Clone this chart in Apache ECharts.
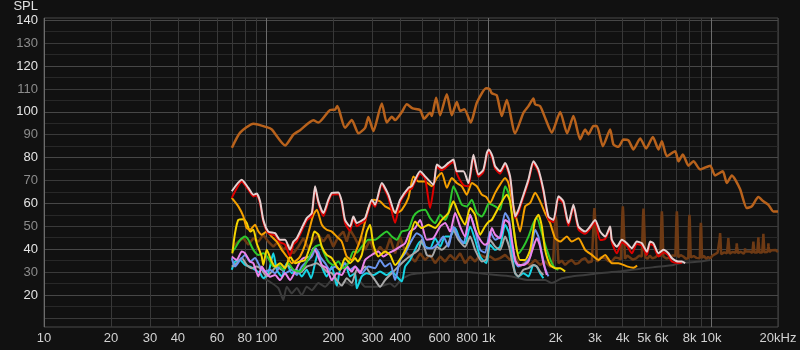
<!DOCTYPE html>
<html><head><meta charset="utf-8">
<script src="https://cdn.jsdelivr.net/npm/echarts@6/dist/echarts.min.js"></script>
<style>html,body{margin:0;padding:0;background:#111111;}#c{width:800px;height:350px;}</style>
</head><body><div id="c"></div>
<script>
// ---- axis ticks / labels ----
const xTickHz = [10,20,30,40,50,60,70,80,90,100,200,300,400,500,600,700,800,900,1000,2000,3000,4000,5000,6000,7000,8000,9000,10000,20000];
const xLabelHz = [10,20,30,40,60,80,100,200,300,400,600,800,1000,2000,3000,4000,5000,6000,8000,10000,20000];
const yTicks = [10,15,20,25,30,35,40,45,50,55,60,65,70,75,80,85,90,95,100,105,110,115,120,125,130,135,140];
const yLabels = [20,30,40,50,60,70,80,90,100,110,120,130,140];

// ---- series data: [Hz, dB SPL] ----
const fundamental = [[70,84.3],[76.2,90.9],[87.4,94.8],[100.4,93.3],[105.7,92.3],[121.4,85.3],[132.3,90.1],[141.8,92],[162.7,96.3],[171.4,95.3],[193.4,100.8],[203.7,101],[208.6,102.5],[225.9,93],[242.2,96.4],[259.4,90.6],[278,93],[287.6,97.7],[302.9,91.6],[330.5,103.7],[348,95.3],[366.6,97.9],[379.3,96.4],[406.6,99.9],[428.2,103.3],[455,101.5],[491.4,100.8],[512,97],[545,99.6],[554.6,98.2],[580,106.2],[604.5,98.5],[648,107.7],[682.3,98.5],[718.7,104.3],[743.6,100.4],[777.5,101.1],[830.8,95.3],[884.2,104],[973.5,110.3],[1010,109.9],[1033,108.1],[1087,107.2],[1145,98.2],[1206,105.2],[1315,90.6],[1433,99.6],[1509,102.5],[1589,105.8],[1617,103.3],[1703,102.5],[1800,97],[1922,90.9],[2096,99.9],[2253,90.6],[2404,98.2],[2577,88],[2714,92.3],[2808,90.1],[2958,93.8],[3064,93.8],[3261,85],[3516,92.3],[3639,85.7],[3833,84.7],[4036,87.9],[4251,87.5],[4476,83.6],[4798,88.4],[5105,84],[5473,89],[5800,83.6],[6008,87.2],[6327,80.6],[6895,82.8],[7134,78.4],[7466,81.4],[7913,76.5],[8331,78.4],[8933,74.8],[9908,76.5],[10420,72.2],[11290,74],[11770,68.9],[12390,72.2],[13500,66.3],[14470,58],[15240,58.7],[16320,62.8],[17190,60.9],[18110,59.4],[19060,56.5],[20000,56.5]];

const noise = [[71,41.3],[74.8,43.3],[78.8,44.8],[83,41.9],[87.4,44.8],[92.1,43.3],[96.9,46.3],[102,43.3],[107.5,41.1],[113.2,43.3],[119.2,39.7],[125.6,41.9],[132.3,38.2],[139.3,41.1],[146.7,44.8],[154.5,40.4],[162.7,44.1],[171.4,46.3],[180.5,43.3],[190,46.3],[200,41.1],[210.8,45.5],[222,47.7],[229.9,43.3],[237.9,48.5],[250.6,44.8],[259.4,41.9],[268,45.5],[278,39.7],[292.7,44.1],[308.3,37.5],[324.7,41.1],[342,38.2],[360.2,44.8],[379.3,38.2],[399.5,45.5],[420.7,39],[443,36.8],[466.6,34.6],[491.4,38.2],[517.6,35.3],[545,37.5],[574,33.9],[604.5,36.8],[636.7,34.6],[670.6,37.5],[706.2,35.3],[743.6,38.2],[783.1,33.9],[824.7,36.8],[868.7,34.6],[914.9,37.5],[963,36.5],[1015,36.8],[1069,35.3],[1125,36.1],[1185,37.5],[1248,35.3],[1315,36.8],[1384,32.4],[1458,34.6],[1536,33.1],[1617,35.3],[1703,33.1],[1793,34.6],[1889,32.4],[1945,33.1],[1990,52],[2003,54.3],[2016,52],[2060,33.9],[2130,35],[2207,33.1],[2290,34.6],[2364,35.3],[2450,33.5],[2532,33.9],[2620,35.4],[2714,36.1],[2800,34.2],[2910,34.6],[2975,55.5],[2988,58],[3002,55.5],[3070,34.6],[3200,36.4],[3339,36.1],[3450,34.8],[3579,34.6],[3700,36.4],[3833,36.1],[3930,35.5],[3995,56],[4011,58.7],[4027,56],[4100,35.8],[4200,37.2],[4300,36.5],[4450,35.4],[4600,36],[4750,37.2],[4880,36.8],[4946,55],[4966,57.7],[4986,55],[5060,36.5],[5180,35.8],[5300,37.2],[5450,36],[5600,36.4],[5770,37.4],[5920,37],[5984,54],[6008,56.5],[6032,54],[6100,36.8],[6300,35.9],[6500,36.2],[6720,37.3],[6910,37],[6990,54],[7018,56.5],[7046,54],[7120,36.5],[7300,37.4],[7500,36.8],[7700,35.8],[7900,36],[7965,52.5],[7995,55],[8025,52.5],[8100,36.4],[8350,37],[8600,36.2],[8900,36],[8965,49],[9000,51.5],[9035,49],[9100,36.2],[9300,37],[9500,35.8],[9700,36.6],[9908,36],[10150,37.2],[10420,37.8],[10700,38.5],[10880,38],[10940,45],[10980,47],[11020,45],[11100,37.8],[11450,38.6],[11780,38.2],[11920,43],[11960,44.8],[12000,43],[12120,38],[12500,38.8],[12880,38.4],[13010,41],[13050,42.6],[13090,41],[13230,38.2],[13600,38.9],[14030,38],[14180,39],[14220,40.4],[14260,39],[14420,38.2],[14900,39],[15330,38.4],[15460,42],[15500,43.3],[15540,42],[15680,38.5],[15900,39.2],[16130,38.5],[16280,43.5],[16320,45.2],[16360,43.5],[16500,38.6],[16800,39.3],[16980,38.6],[17150,45],[17190,46.7],[17230,45],[17370,38.7],[17700,39.4],[17930,38.8],[18070,41],[18110,42.6],[18150,41],[18290,38.8],[18700,39.5],[19000,39],[19500,39.6],[20000,38.8]];

const white = [[69.9,65.3],[77.5,70.3],[83,66.8],[87.4,63.8],[90.5,64.3],[93.7,60.9],[96.9,52.8],[102,47.7],[109.4,47],[115.2,44.1],[121.4,44.1],[127.8,39.8],[132.3,43.3],[137,44.8],[146.7,50.7],[151.9,53.6],[160.1,55.8],[165.6,67.5],[171.4,60.9],[180.5,55.8],[190,61.6],[196.9,64.6],[210.8,64.8],[218.3,60.9],[225.9,52.8],[237.9,49.9],[246.3,54.3],[255.1,51.4],[264,52.1],[278,53.6],[297.9,61.6],[308.3,59.4],[330.5,68.9],[353.9,63.8],[379.3,55.8],[399.5,61.6],[435.3,66.8],[450.9,67.5],[466.6,70.4],[491.4,74],[517.6,71.8],[563.9,68.2],[584.2,77],[615.2,75.5],[658.9,77.7],[693.8,79.2],[718.7,74],[769.5,74],[810.4,68.9],[853.5,81.3],[899,72.6],[946.7,74.8],[980.6,82],[1000,83.5],[1040,80.5],[1069,76.2],[1125,74],[1185,77.7],[1248,71.8],[1315,54.3],[1360,57.2],[1433,63.8],[1509,70.4],[1589,78.4],[1673,74.8],[1762,66],[1856,54.3],[1955,52.8],[2058,63.1],[2168,60.9],[2283,51.4],[2404,59.4],[2532,49.9],[2714,47.7],[2858,49.9],[3010,52.8],[3171,47.7],[3339,45.5],[3516,49.9],[3579,44.1],[3770,41.1],[3970,44.1],[4181,42.6],[4403,40.4],[4637,43.3],[4884,42.6],[5142,38.9],[5322,43.3],[5507,42.6],[5800,38.2],[6108,39.7],[6433,38.2],[6663,36.1],[7134,34.6],[7389,34.6],[7647,33.9]];

const red = [[69.9,62.4],[77.5,69.5],[83,66],[87.4,63],[90.5,63.5],[93.7,60],[96.9,52],[102,47],[109.4,46],[115.2,43],[121.4,42],[127.8,37],[132.3,42],[137,43.5],[146.7,49.5],[151.9,52.5],[160.1,54.5],[165.6,66.5],[171.4,60],[180.5,54.5],[190,60.5],[196.9,63.8],[210.8,64],[218.3,60],[225.9,51.5],[237.9,48],[246.3,53.5],[255.1,50],[264,51],[278,52.5],[297.9,60.5],[308.3,58.5],[330.5,68],[353.9,62.5],[379.3,51.5],[399.5,60.5],[435.3,65.8],[450.9,66.5],[466.6,69.5],[491.4,73],[517.6,70.8],[545,58],[563.9,66],[584.2,76],[615.2,74.5],[658.9,76.7],[693.8,78.2],[718.7,73],[769.5,68],[810.4,67.5],[853.5,80.3],[899,71.6],[946.7,73.8],[980.6,81],[1000,82.5],[1040,79.5],[1069,75.2],[1125,73],[1185,76.7],[1248,70.8],[1315,53.5],[1360,56],[1433,62.8],[1509,69.4],[1589,77.4],[1673,73.8],[1762,65],[1856,53],[1955,51.8],[2058,62.1],[2168,59.9],[2283,50.2],[2404,58.4],[2532,48.7],[2714,46.7],[2858,48.9],[3010,51.8],[3171,44],[3339,44.5],[3516,48.9],[3579,43],[3770,38.2],[3970,43],[4181,41.6],[4403,38.2],[4637,42.3],[4884,41.6],[5142,37.5],[5322,42.3],[5507,41.6],[5800,36.8],[6108,38.7],[6433,37.2],[6663,34.6],[7134,34],[7389,34]];

const orange = [[69.9,62.4],[74.8,58.7],[78.8,54.3],[81.6,49.2],[84.5,48.5],[88.9,50.7],[92.1,47.7],[95.3,46.3],[100.4,47.7],[105.7,45.5],[111.4,43.3],[117.3,39.7],[123.5,36.8],[130.1,33.9],[137,35.3],[141.8,36.8],[149.3,41.9],[157.3,49.9],[162.7,55],[168.6,57.2],[177.6,50.7],[186.9,48.5],[196.9,47.7],[207.4,45.5],[218.3,43.3],[229.9,36.8],[242.2,35.3],[255.1,40],[264,44],[278,52],[287.6,58],[302.9,61.6],[324.7,60.9],[342,58.7],[366.6,57.2],[386,55.8],[406.6,57.2],[435.3,62.4],[458.5,71.8],[482.9,69.6],[517.6,69.6],[554.6,67.5],[584.2,71.1],[615.2,73.3],[648,66.8],[682.3,71.1],[718.7,68.9],[756.8,67.5],[797,63.8],[839.5,68.9],[884.2,67.5],[931.1,63.8],[975,62.8],[1015,60.2],[1069,64.6],[1125,68.2],[1185,71.1],[1226,68.9],[1270,61.6],[1338,52.8],[1384,47.7],[1458,58.7],[1536,60.2],[1617,64.6],[1703,60.9],[1793,55.8],[1889,51.4],[1989,44.8],[2096,43.3],[2246,45.5],[2364,43.3],[2532,44.8],[2714,39.7],[2909,37.5],[3115,35.3],[3339,37.5],[3579,33.9],[3833,33.9],[4181,32.5],[4476,31.9],[4650,32.8]];

const yellow = [[70.3,38.2],[72.3,47],[74.8,52.8],[78.8,53.1],[81.6,51.4],[84.5,47.7],[87.4,48.5],[90.5,42.6],[95.3,36.8],[96.9,33.1],[100.4,39.7],[105.7,34.6],[109.4,32.4],[115.2,33.9],[121.4,31.7],[127.8,36.8],[134.6,33.9],[141.8,34.6],[149.3,35.3],[158.9,42.6],[164.4,47.7],[171.4,46.3],[177.6,41.1],[186.9,37.5],[196.9,36.1],[207.4,32.4],[214.5,31],[225.9,36.1],[237.9,33.9],[250.6,36.1],[258,34.6],[268.6,37.5],[282.9,47.7],[292.7,50.7],[302.9,41.9],[319,36.8],[342,39],[360.2,37.5],[379.3,33.1],[406.6,36.8],[435.3,42.6],[466.6,52.1],[500.2,49.2],[535.5,50.7],[574,49.2],[615.2,52.8],[658.9,55.8],[693.8,60.9],[730.7,55.8],[783.1,50.7],[824.7,58],[868.7,55],[914.9,46.3],[963.4,50],[1000,52],[1033,52.8],[1125,59.4],[1206,63.8],[1248,60.9],[1291,49.9],[1338,39.7],[1384,35.3],[1458,35.3],[1536,39.7],[1617,52.8],[1673,55],[1734,49.9],[1793,39.7],[1889,33.1],[1989,31.7],[2096,31.7],[2207,30.2]];

const green = [[70.3,39],[72.3,40.4],[76.2,44.1],[80.2,45.5],[83,44.1],[87.4,39.7],[92.1,37.5],[96.9,38.2],[102,36.1],[107.5,32.4],[113.2,33.1],[119.2,31],[125.6,33.9],[132.3,31],[141.8,30.2],[149.3,33.1],[157.3,37.5],[165.6,41.1],[174.5,41.9],[180.5,39],[190,34.6],[200.1,33.1],[210.8,34.6],[222,31.7],[233.8,33.9],[246.3,39],[255.1,38.5],[268.6,41.1],[287.6,44.1],[308.3,44.1],[330.5,46.3],[348,47.7],[366.6,45.5],[386,44.1],[406.6,47.7],[435.3,48.5],[458.5,54.3],[482.9,56.5],[517.6,57.2],[545,53.6],[574,51.4],[604.5,55],[636.7,52.8],[658.9,55.8],[693.8,67.5],[718.7,64.6],[756.8,59.4],[797,58.7],[839.5,61.6],[884.2,55.8],[931.1,54.3],[963,56.5],[1000,60],[1069,58.7],[1125,57.2],[1185,67.5],[1226,64.6],[1270,55.8],[1315,44.1],[1360,38.2],[1433,41.1],[1509,45.5],[1589,51.4],[1646,53.6],[1734,47],[1825,39.7],[1922,33.9],[1989,31.7],[2058,31]];

const violet = [[69.9,36.8],[73.6,35.3],[77.5,39],[80.2,38.2],[84.5,34.6],[87.4,33.9],[92.1,28.1],[95.3,32.4],[98.7,30.2],[103.9,28],[109.4,28.7],[115.2,26.5],[121.4,29.5],[127.8,26.5],[134.6,30.2],[141.8,34.6],[146.7,36.1],[157.3,36.8],[162.7,40.4],[168.6,38.2],[177.6,33.1],[186.9,31.7],[196.9,26.5],[207.4,29.5],[218.3,28.7],[229.9,32.4],[242.2,30.2],[250.6,32.4],[264,29.5],[278,35.3],[297.9,37.5],[319,39],[336,36.8],[353.9,38.2],[379.3,39.7],[399.5,41.1],[420.7,42.6],[443,47.7],[466.6,49.2],[491.4,52.8],[526.7,44.1],[563.9,44.8],[604.5,49.9],[636.7,51.4],[670.6,47.7],[706.2,55.8],[743.6,49.9],[783.1,45.5],[824.7,55],[868.7,48.5],[914.9,44.1],[963.4,41.9],[997,43],[1033,49.2],[1069,46.3],[1125,44.8],[1185,52.8],[1235,51.4],[1270,44.1],[1315,35.3],[1360,33.1],[1433,33.1],[1509,34.6],[1589,41.1],[1646,44.8],[1703,41.1],[1762,33.9],[1825,28.7]];

const blue = [[69.9,36.1],[72.3,32.4],[76.2,35.3],[80.2,37.5],[84.5,34.6],[88.9,36.1],[93.7,32.4],[98.7,30.2],[103.9,31],[109.4,29.5],[115.2,32.4],[121.4,29.5],[130.1,31],[137,28.7],[144.3,32.4],[151.9,34.6],[160.1,36.8],[166.8,40.4],[174.5,36.8],[183.7,33.9],[193.4,31],[203.7,32.4],[214.5,31],[225.9,33.9],[237.9,31],[250.6,32.4],[268.6,29.5],[287.6,32.4],[308.3,31.7],[324.7,35.3],[342,32.4],[360.2,33.9],[379.3,26.5],[399.5,35.3],[420.7,38.2],[443,42.6],[474.9,47],[500.2,45.5],[526.7,40.4],[554.6,40.4],[593.9,42.6],[625.5,45.5],[658.9,41.1],[693.8,49.9],[730.7,45.5],[769.5,42.6],[824.7,55],[868.7,48.5],[914.9,39.7],[963,38.5],[1015,47.7],[1069,44.1],[1125,45.5],[1185,55.8],[1235,52.8],[1270,42.6],[1315,34.6],[1360,32.4],[1458,33.9],[1536,36.8],[1617,48.5],[1673,45.5],[1734,38.2],[1793,31.7],[1856,28.1]];

const cyan = [[69.9,31],[72.3,34.6],[76.2,35.3],[80.2,33.1],[84.5,32.4],[88.9,31],[93.7,29.5],[96.9,27.3],[102,29.5],[107.5,38.2],[111.4,31],[117.3,28.1],[123.5,33.9],[130.1,29.5],[137,31],[144.3,28.1],[151.9,31],[158.9,27.3],[165.6,33.9],[171.4,39],[177.6,32.4],[186.9,28.1],[196.9,32.4],[207.4,24.1],[214.5,31],[225.9,33.9],[237.9,28.1],[250.6,29.5],[255.1,22.9],[268.6,28.1],[282.9,29.5],[302.9,28.7],[324.7,30.2],[348,28.7],[366.6,30.2],[386,28.1],[406.6,25.9],[420.7,32.4],[443,35.3],[466.6,39.7],[491.4,43.3],[517.6,41.1],[545,40.4],[574,44.8],[604.5,41.1],[636.7,45.5],[670.6,45.5],[706.2,49.2],[743.6,44.1],[783.1,42.6],[824.7,49.9],[868.7,44.1],[914.9,36.8],[975,33.9],[1015,41.9],[1069,39.7],[1125,41.1],[1185,50.7],[1235,47],[1270,38.2],[1315,29.5],[1360,28.1],[1433,29.5],[1509,28.1],[1589,33.1],[1646,32.4],[1703,29.5],[1762,27.3]];

const silver = [[69.9,32.4],[73.6,33.9],[77.5,36.1],[81.6,33.1],[86,31.7],[90.5,32.4],[95.3,31],[100.4,28.1],[105.7,30.2],[111.4,32.4],[117.3,31],[123.5,33.1],[130.1,31.7],[137,29.5],[144.3,30.2],[151.9,32.4],[160.1,33.1],[168.6,33.9],[177.6,32.4],[186.9,30.2],[196.9,29.5],[207.4,26.5],[218.3,24.1],[229.9,27.3],[242.2,25.2],[255.1,31],[264,30.2],[278,32.4],[292.7,29.5],[308.3,26.5],[324.7,23.6],[342,26.5],[366.6,29.5],[392.5,32.4],[420.7,35.3],[450.9,37.5],[482.9,39.7],[500.2,44.1],[526.7,37.5],[554.6,36.8],[584.2,41.1],[615.2,39.7],[658.9,42.6],[693.8,48.5],[730.7,44.1],[783.1,41.1],[824.7,45.5],[868.7,39.7],[931.1,34.6],[975,35.5],[1015,44.1],[1069,41.1],[1125,39.7],[1185,45.5],[1235,41.1],[1270,35.3],[1315,29.5],[1360,28.1],[1433,31],[1509,31.7],[1589,33.1],[1646,32.4],[1703,30.2],[1762,28.7]];

const dark = [[97,27.3],[105.7,25.2],[113.2,23],[119.2,17.8],[123.5,23.6],[130.1,20.7],[137,23],[144.3,20],[151.9,23.6],[160.1,22.1],[171.4,25.2],[183.7,23.6],[196.9,26.5],[210.8,23.6],[225.9,25.9],[242.2,24.1],[259.4,26.5],[278,23.6],[308.3,23.6],[333,24],[360,25],[377,23.6],[406,27],[450,29],[600,30],[800,30],[1000,29],[1270,28.1],[1509,26.5],[1793,26.5],[1922,25.2],[2133,27.3],[2364,28.1],[2714,28.7],[3115,29.5],[3833,30.2],[4798,31.5],[5903,32.4],[6774,33.1],[7261,33.9],[8933,34.6],[9908,35.3]];

// ---- build chart ----
const L = v => Math.log10(v);
const toXY = arr => arr.map(p => [L(p[0]), p[1]]);
function fmtHz(v) {
  const hz = Math.round(Math.pow(10, v));
  if (hz >= 20000) return '20kHz';
  if (hz >= 1000) return (hz / 1000) + 'k';
  return String(hz);
}
const vGrid = ['#6c6c6c','#383838','#383838','#383838','#383838','#383838','#383838','#383838','#383838'];
const hGrid = ['#3a3a3a','#282828','#474747','#282828'];

function line(data, color, width, z, smooth) {
  return { type: 'line', data: toXY(data), showSymbol: false, symbol: 'none', silent: true,
    smooth: smooth, z: z, lineStyle: { color: color, width: width }, itemStyle: { color: color } };
}

const chart = echarts.init(document.getElementById('c'), null, { renderer: 'canvas' });
chart.setOption({
  backgroundColor: '#111111',
  animation: false,
  textStyle: { fontFamily: 'Liberation Sans, Arial, sans-serif' },
  grid: { left: 44, right: 22, top: 18, bottom: 23, show: true, borderColor: '#4a4a4a', borderWidth: 1, backgroundColor: 'transparent' },
  xAxis: {
    type: 'value', min: L(10), max: L(20000),
    axisLine: { show: false },
    axisTick: { show: false, customValues: xTickHz.map(L) },
    axisLabel: { customValues: xLabelHz.map(L), formatter: fmtHz, color: '#d2d2d2', fontSize: 13, margin: 5 },
    splitLine: { show: true, lineStyle: { color: vGrid, width: 1 } }
  },
  yAxis: {
    type: 'value', min: 6, max: 141,
    name: 'SPL', nameLocation: 'end', nameGap: 5,
    nameTextStyle: { color: '#e0e0e0', fontSize: 13, align: 'right', padding: [0, 6, 0, 0] },
    axisLine: { show: false },
    axisTick: { show: false, customValues: yTicks },
    axisLabel: { customValues: yLabels, fontSize: 13, margin: 6,
      color: v => (v % 20 === 0 ? '#e4e4e4' : '#8c8c8c') },
    splitLine: { show: true, lineStyle: { color: hGrid, width: 1 } }
  },
  series: [
    line(dark, '#3c3c3c', 2, 1, 0.2),
    line(noise, '#6e3a14', 2.5, 2, false),
    line(cyan, '#16d4e4', 2, 3, 0.2),
    line(silver, '#a8a8a8', 2, 4, 0.2),
    line(blue, '#6c96f0', 2, 5, 0.2),
    line(violet, '#ec84ec', 2, 6, 0.2),
    line(green, '#2ec82e', 2, 7, 0.2),
    line(yellow, '#f4d400', 2, 8, 0.2),
    line(orange, '#f5a000', 2, 9, 0.2),
    line(red, '#dd0000', 2, 10, 0.2),
    line(white, '#e6d0d0', 2, 11, 0.2),
    line(fundamental, '#b8621c', 2.5, 12, 0.2)
  ]
});
</script>
</body></html>
